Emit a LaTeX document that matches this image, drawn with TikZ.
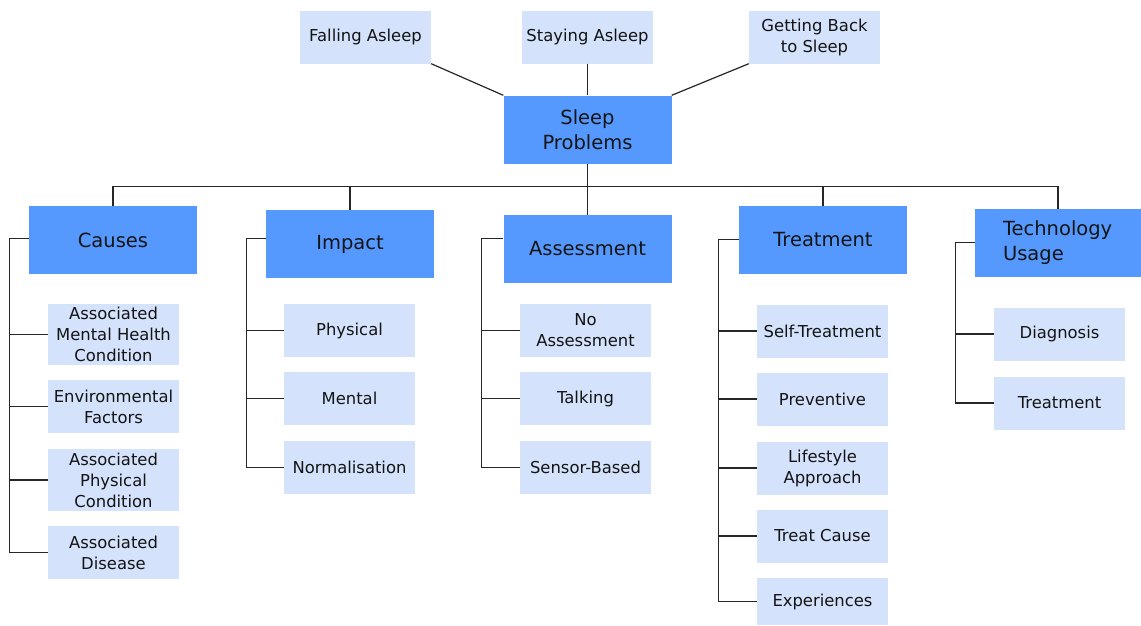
\documentclass[tikz,border=0pt]{standalone}
\usepackage{fontspec}
\setmainfont{DejaVu Sans}
\begin{document}
\begin{tikzpicture}[x=1pt,y=-1pt,
  topic/.style={rectangle,fill=topicblue,inner sep=0pt,minimum width=168pt,minimum height=68pt,
    align=center,font=\fontsize{19.5}{25}\selectfont,text=black!92},
  item/.style={rectangle,fill=itemblue,inner sep=0pt,minimum width=131pt,minimum height=53pt,
    align=center,font=\fontsize{16.4}{21}\selectfont,text=black!92},
  link/.style={draw=black!85,line width=1.2pt}]
\definecolor{topicblue}{HTML}{5599FF}
\definecolor{itemblue}{HTML}{D4E2FC}
\useasboundingbox (0,0) rectangle (1141,625);
\fill[white] (0,0) rectangle (1141,625);

% root and its three sub-questions
\node[topic] (sp) at (587.5,129.5) {Sleep\\Problems};
\node[item] (fa) at (365.5,37) {Falling Asleep};
\node[item] (sa) at (587.5,37) {Staying Asleep};
\node[item] (gb) at (814.5,37) {Getting Back\\to Sleep};
\draw[link] (fa.south east) -- (sp.north west);
\draw[link] (sa.south) -- (sp.north);
\draw[link] (gb.south west) -- (sp.north east);

% main categories
\node[topic] (causes) at (113,240) {Causes};
\node[topic] (impact) at (350,244) {Impact};
\node[topic] (assess) at (587.5,249) {Assessment};
\node[topic] (treat) at (823,240) {Treatment};
\node[topic,minimum width=166pt,align=left,text width=110pt] (tech) at (1058,243) {Technology\\Usage};

\coordinate (bus) at (588,186.5);
\draw[link] (sp.south) -- (assess.north);
\draw[link] (causes.north) -- (causes.north |- bus) -- (tech.north |- bus) -- (tech.north);
\draw[link] (impact.north) -- (impact.north |- bus);
\draw[link] (treat.north) -- (treat.north |- bus);

% Causes
\node[item,minimum height=61pt] (c1) at (113.5,334.5) {Associated\\Mental Health\\Condition};
\node[item] (c2) at (113.5,406.5) {Environmental\\Factors};
\node[item,minimum height=62pt] (c3) at (113.5,480) {Associated\\Physical\\Condition};
\node[item] (c4) at (113.5,552.5) {Associated\\Disease};
\coordinate (cr) at (9.5,238.5);
\draw[link] (causes.west |- cr) -- (cr) |- (c4.west);
\foreach \n in {c1,c2,c3} \draw[link] (cr |- \n.west) -- (\n.west);

% Impact
\node[item] (i1) at (349.5,330.5) {Physical};
\node[item] (i2) at (349.5,398.5) {Mental};
\node[item] (i3) at (349.5,467.5) {Normalisation};
\coordinate (ir) at (246.5,238.5);
\draw[link] (impact.west |- ir) -- (ir) |- (i3.west);
\foreach \n in {i1,i2} \draw[link] (ir |- \n.west) -- (\n.west);

% Assessment
\node[item] (a1) at (585.5,330.5) {No\\Assessment};
\node[item] (a2) at (585.5,398.5) {Talking};
\node[item] (a3) at (585.5,467.5) {Sensor-Based};
\coordinate (ar) at (481.5,238.5);
\draw[link] (assess.west |- ar) -- (ar) |- (a3.west);
\foreach \n in {a1,a2} \draw[link] (ar |- \n.west) -- (\n.west);

% Treatment
\node[item] (t1) at (822.5,331) {Self-Treatment};
\node[item] (t2) at (822.5,399) {Preventive};
\node[item] (t3) at (822.5,468) {Lifestyle\\Approach};
\node[item] (t4) at (822.5,536) {Treat Cause};
\node[item,minimum height=47pt] (t5) at (822.5,601.5) {Experiences};
\coordinate (tr) at (718.5,239.5);
\draw[link] (treat.west |- tr) -- (tr) |- (t5.west);
\foreach \n in {t1,t2,t3,t4} \draw[link] (tr |- \n.west) -- (\n.west);

% Technology usage
\node[item] (u1) at (1059.5,334) {Diagnosis};
\node[item] (u2) at (1059.5,403) {Treatment};
\coordinate (ur) at (955.5,242.5);
\draw[link] (tech.west |- ur) -- (ur) |- (u2.west);
\draw[link] (ur |- u1.west) -- (u1.west);
\end{tikzpicture}
\end{document}
